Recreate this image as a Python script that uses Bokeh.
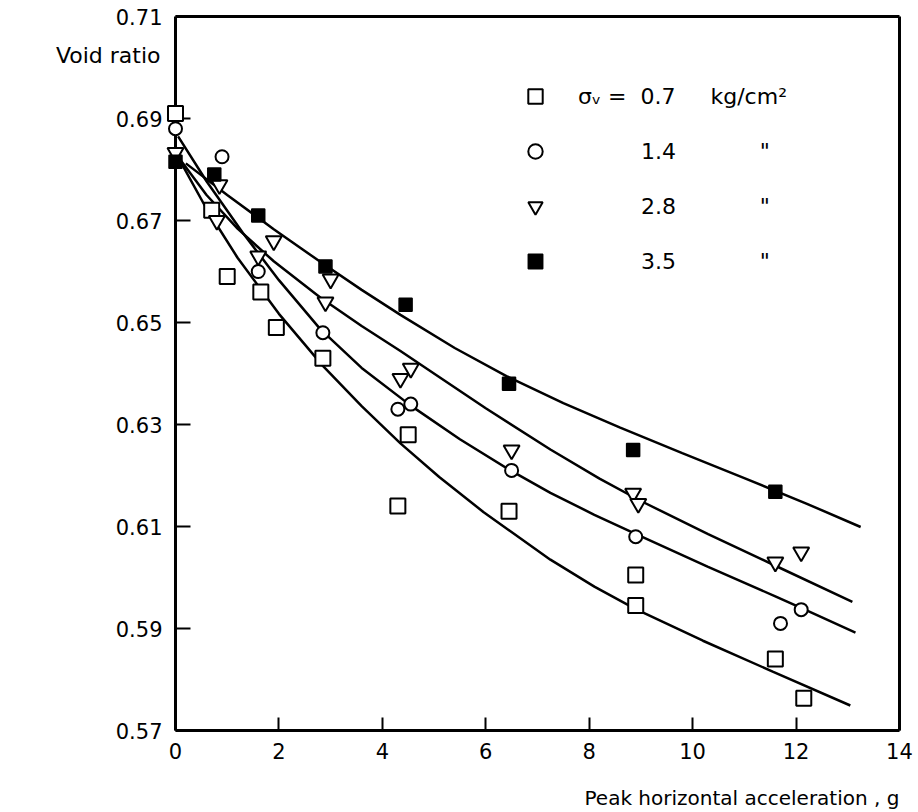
from bokeh.plotting import figure
from bokeh.models import (Range1d, LinearAxis, FixedTicker, NumeralTickFormatter,
                          Label, Legend, LegendItem)
from bokeh.embed import file_html
from bokeh.resources import INLINE

# ---------------- data ----------------
x_ticks = [0, 2, 4, 6, 8, 10, 12, 14]
y_ticks = [0.57, 0.59, 0.61, 0.63, 0.65, 0.67, 0.69, 0.71]

NB = "\u00a0"
legend_labels = ["σᵥ" + NB + "=" + NB * 2 + "0.7" + NB * 5 + "kg/cm²",
                 NB * 9 + "1.4" + NB * 12 + "\"",
                 NB * 9 + "2.8" + NB * 12 + "\"",
                 NB * 9 + "3.5" + NB * 12 + "\""]

# measured points, sigma_v = 0.7 kg/cm2 (open squares)
sq_x = [0.0, 0.7, 1.0, 1.65, 1.95, 2.85, 4.3, 4.5, 6.45, 8.9, 8.9, 11.6, 12.15]
sq_y = [0.691, 0.672, 0.659, 0.656, 0.649, 0.643, 0.614, 0.628, 0.613, 0.6005, 0.5945, 0.584, 0.5763]

# sigma_v = 1.4 (open circles)
ci_x = [0.0, 0.9, 1.6, 2.85, 4.3, 4.55, 6.5, 8.9, 11.7, 12.1]
ci_y = [0.688, 0.6825, 0.660, 0.648, 0.633, 0.634, 0.621, 0.608, 0.591, 0.5937]

# sigma_v = 2.8 (open inverted triangles)
tr_x = [0.0, 0.85, 0.8, 1.6, 1.9, 2.9, 3.0, 4.35, 4.55, 6.5, 8.85, 8.95, 11.6, 12.1]
tr_y = [0.6833, 0.677, 0.670, 0.663, 0.666, 0.654, 0.6585, 0.639, 0.641, 0.625, 0.6165, 0.6145, 0.603, 0.605]

# sigma_v = 3.5 (filled squares)
fs_x = [0.0, 0.75, 1.6, 2.9, 4.45, 6.45, 8.85, 11.6]
fs_y = [0.6815, 0.679, 0.671, 0.661, 0.6535, 0.638, 0.625, 0.6168]

# fitted curves
cA_x = [0.2, 1.0, 1.9, 2.8, 3.6, 4.35, 5.4, 6.4, 7.5, 8.6, 9.8, 11.0, 12.2, 13.25]
cA_y = [0.6812, 0.6750, 0.6683, 0.6619, 0.6564, 0.6515, 0.6450, 0.6395, 0.6342, 0.6294,
        0.6244, 0.6195, 0.6145, 0.6099]

cB_x = [0.1, 0.6, 1.2, 1.9, 2.8, 3.6, 4.35, 5.07, 6.0, 7.25, 8.2, 9.0, 10.3, 11.56, 13.09]
cB_y = [0.6818, 0.6750, 0.6684, 0.6620, 0.6549, 0.6493, 0.6444, 0.6395, 0.6332, 0.6251,
        0.6194, 0.6150, 0.6085, 0.6025, 0.5952]

cC_x = [0.05, 0.6, 1.3, 2.0, 2.8, 3.6, 4.55, 5.5, 6.46, 7.25, 8.1, 8.95, 10.3, 11.6, 12.13, 13.15]
cC_y = [0.6865, 0.6777, 0.6676, 0.6583, 0.6487, 0.6411, 0.6337, 0.6271, 0.6211, 0.6166,
        0.6123, 0.6083, 0.6021, 0.5963, 0.5939, 0.5892]

cD_x = [0.1, 0.6, 1.2, 2.0, 2.85, 3.6, 4.35, 5.1, 5.96, 7.25, 8.1, 8.9, 10.2, 11.56, 13.05]
cD_y = [0.6815, 0.6723, 0.6627, 0.6517, 0.6415, 0.6336, 0.6263, 0.6197, 0.6128, 0.6035,
        0.5982, 0.5938, 0.5876, 0.5815, 0.5749]

FONT = "DejaVu Sans"
FS = "20px"
FS_TICK = "21px"
FS_LEG = "22px"

W, H = 916, 810
PX0, PX_PER_X = 175.0, 51.71       # screen position of x=0, pixels per unit
PY0, PX_PER_Y = 730.0, 5100.0      # screen position of y=0.57, pixels per unit

p = figure(width=W, height=H,
           x_range=Range1d(-PX0 / PX_PER_X, (W - PX0) / PX_PER_X),
           y_range=Range1d(0.57 - (H - PY0) / PX_PER_Y, 0.57 + PY0 / PX_PER_Y),
           x_axis_type=None, y_axis_type=None,
           output_backend="svg", toolbar_location=None,
           min_border_left=0, min_border_right=0, min_border_top=0, min_border_bottom=0)
p.outline_line_color = None
p.background_fill_color = "white"
p.border_fill_color = "white"

common = dict(minor_tick_in=0, minor_tick_out=0, axis_line_width=3, axis_line_color="black",
              major_tick_line_width=2, major_label_text_font=FONT,
              major_label_text_font_size=FS_TICK, major_label_text_color="black")

# left axis at x = 0, drawn below the markers
yaxis = LinearAxis(ticker=FixedTicker(ticks=y_ticks), formatter=NumeralTickFormatter(format="0.00"),
                   fixed_location=0, bounds=(0.57, 0.71), major_tick_in=15, major_tick_out=0,
                   major_label_standoff=13, level="underlay", **common)
p.add_layout(yaxis, "left")

xaxis = LinearAxis(ticker=FixedTicker(ticks=x_ticks), fixed_location=0.57, bounds=(0, 14),
                   major_tick_in=13, major_tick_out=0, major_label_standoff=12, **common)
p.add_layout(xaxis, "below")

top = LinearAxis(ticker=FixedTicker(ticks=[]), fixed_location=0.71, bounds=(0, 14),
                 major_tick_in=0, major_tick_out=0, major_label_standoff=0, **common)
p.add_layout(top, "above")

right = LinearAxis(ticker=FixedTicker(ticks=[]), fixed_location=14, bounds=(0.57, 0.71),
                   major_tick_in=0, major_tick_out=0, major_label_standoff=0, **common)
p.add_layout(right, "right")

# curves
for cx, cy in [(cA_x, cA_y), (cB_x, cB_y), (cC_x, cC_y), (cD_x, cD_y)]:
    p.line(cx, cy, line_color="black", line_width=2.5)

r_sq = p.scatter(sq_x, sq_y, marker="square", size=15, fill_color="white",
                 line_color="black", line_width=2)
r_ci = p.scatter(ci_x, ci_y, marker="circle", size=13, fill_color="white",
                 line_color="black", line_width=2)
r_tr = p.scatter(tr_x, tr_y, marker="inverted_triangle", size=16, fill_color="white",
                 line_color="black", line_width=2)
r_fs = p.scatter(fs_x, fs_y, marker="square", size=13, fill_color="black",
                 line_color="black", line_width=1.5)

legend = Legend(items=[LegendItem(label=legend_labels[0], renderers=[r_sq]),
                       LegendItem(label=legend_labels[1], renderers=[r_ci]),
                       LegendItem(label=legend_labels[2], renderers=[r_tr]),
                       LegendItem(label=legend_labels[3], renderers=[r_fs])],
                location=(517, 531), orientation="vertical",
                glyph_width=36, glyph_height=36, spacing=19, padding=0, margin=0,
                label_standoff=25, label_text_font=FONT, label_text_font_size=FS_LEG,
                label_text_color="black",
                border_line_color=None, background_fill_alpha=0)
p.add_layout(legend)

p.add_layout(Label(x=0, y=0.7024, x_offset=-15, text="Void ratio", text_align="right",
                   text_baseline="middle", text_font=FONT, text_font_size="22px",
                   text_color="black"))
p.add_layout(Label(x=14, y=0.57, y_offset=-67, text="Peak horizontal acceleration , g",
                   text_align="right", text_baseline="middle", text_font=FONT,
                   text_font_size=FS, text_color="black"))

open("out.html", "w").write(file_html(p, INLINE))
